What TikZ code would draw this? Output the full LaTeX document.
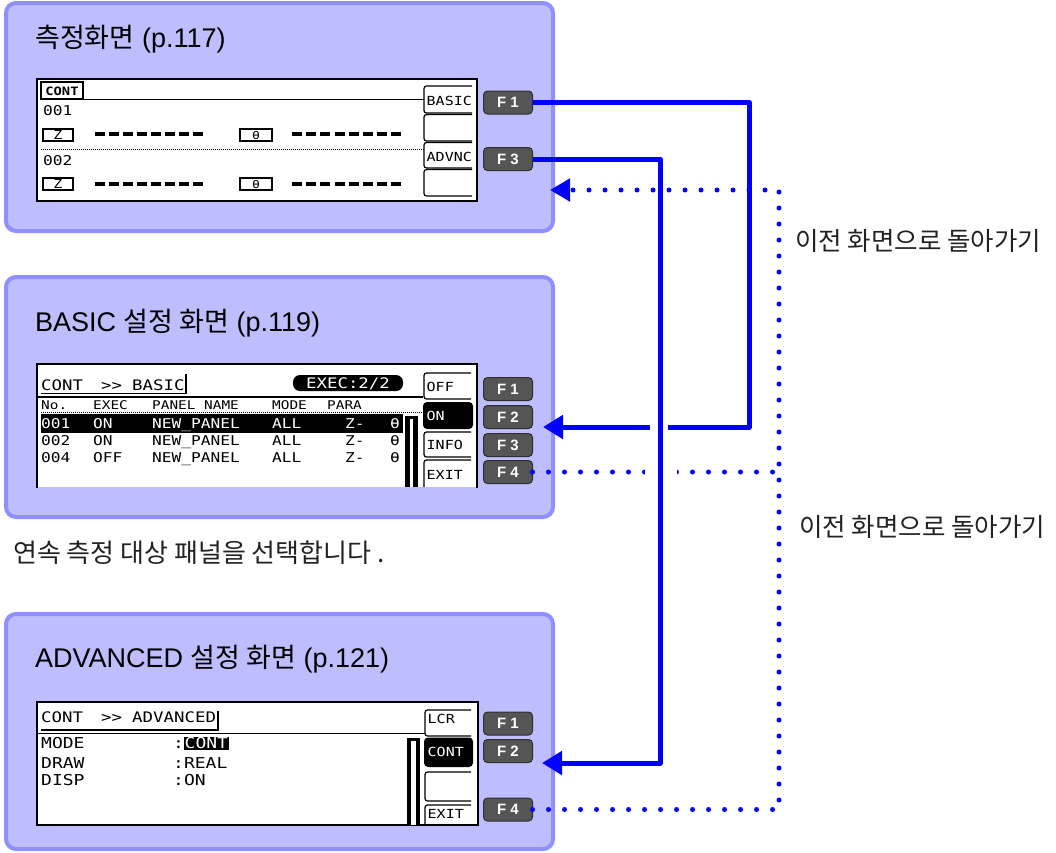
\documentclass[tikz,border=0pt]{standalone}
\usepackage{fontspec}
\setmainfont{Liberation Sans}
\newfontfamily\kr{Noto Sans CJK KR}
\newfontfamily\lcd[FakeStretch=1.2]{DejaVu Sans Mono}
\usetikzlibrary{arrows.meta}
\definecolor{panelfill}{HTML}{BEBEFF}
\definecolor{panelline}{HTML}{8F8FFF}
\definecolor{keygray}{HTML}{555555}
\definecolor{keyedge}{HTML}{2E2E2E}
\definecolor{bluearr}{HTML}{0000FF}
\definecolor{labeltext}{HTML}{222222}
\newcommand\lcdS{\lcd\fontsize{12.5}{14}\selectfont}
\newcommand\lcdH{\lcd\fontsize{12}{14}\selectfont}
\newcommand\lcdM{\lcd\fontsize{13.5}{15}\selectfont}
\newcommand\lcdL{\lcd\fontsize{14.5}{16}\selectfont}
\newcommand\lcdX{\lcd\fontsize{15}{17}\selectfont}
\newcommand\lcdkeyshape[4]{\draw[thin1, rounded corners=2.5pt] (#3,#2) -- (#1,#2) -- (#1,#4) -- (#3,#4);}
\tikzset{
  panel/.style={draw=panelline, fill=panelfill, line width=4pt, rounded corners=10pt, inner sep=0pt, outer sep=0pt, anchor=north west},
  ptitle/.style={anchor=base west, inner sep=0pt, font=\fontsize{27}{31}\selectfont},
  fkey/.style={draw=keyedge, fill=keygray, rounded corners=4pt, line width=1pt, minimum width=49pt, minimum height=23pt, inner sep=0pt, outer sep=0pt, text=white, font=\fontsize{15}{17}\selectfont\bfseries},
  solidarrow/.style={draw=bluearr, line width=5pt, line join=round, -{Triangle[length=20pt,width=23pt]}},
  dotline/.style={draw=bluearr, line width=5pt, line cap=round, dash pattern=on 0pt off 16pt},
  dotarrow/.style={dotline, -{Triangle[length=20pt,width=22pt]}},
  lab/.style={anchor=west, inner sep=0pt, text=labeltext, font=\kr\fontsize{25.5}{28}\selectfont},
  capt/.style={anchor=west, inner sep=0pt, text=labeltext, font=\kr\fontsize{26}{30}\selectfont},
  scrborder/.style={line width=2.5pt, line cap=rect},
  thin1/.style={line width=1.2pt},
  dotted1/.style={line width=1pt, dash pattern=on 1pt off 1pt},
  dashbar/.style={line width=4pt},
  lcds/.style={anchor=base west, inner sep=0pt, font=\lcdS},
  lcdh/.style={anchor=base west, inner sep=0pt, font=\lcdH},
  lcdm/.style={anchor=base west, inner sep=0pt, font=\lcdM},
  lcdl/.style={anchor=base west, inner sep=0pt, font=\lcdL},
  lcdx/.style={anchor=base west, inner sep=0pt, font=\lcdX},
}
\begin{document}
\begin{tikzpicture}[x=1pt,y=-1pt]
\useasboundingbox[fill=white] (0,0) rectangle (1056,852);

% ---------------- panels ----------------
\node[panel, minimum width=547pt, minimum height=228pt] (panel1) at (6,3) {};
\node[panel, minimum width=547pt, minimum height=240pt] (panel2) at (6,277) {};
\node[panel, minimum width=547pt, minimum height=235pt] (panel3) at (6,614) {};

\node[ptitle] (t1) at (35,47) {{\kr 측정화면} (p.117)};
\node[ptitle] (t2) at (35,331) {BASIC {\kr 설정 화면} (p.119)};
\node[ptitle] (t3) at (35,667) {ADVANCED {\kr 설정 화면} (p.121)};

% ---------------- screen 1 ----------------
\fill[white] (37,79) rectangle (477,201);
\draw[scrborder] (37,79) rectangle (477,201);
\draw[thin1] (41,82) rectangle (83,99);
\node[anchor=base, inner sep=0pt, font=\lcd\bfseries\fontsize{11.5}{12}\selectfont] (s1cont) at (62,95) {CONT};
\draw[thin1] (83,99.5) -- (424,99.5);
\node[lcdm] (s1r1) at (43,115) {001};
\draw[thin1] (43,129) rectangle (73,141);
\node[anchor=base, inner sep=0pt, font=\lcdS] (s1z1) at (58,139.5) {Z};
\foreach \i in {0,...,7} \draw[dashbar] (95+14*\i,134) -- +(10,0);
\draw[thin1] (240,129) rectangle (272,141);
\node[anchor=base, inner sep=0pt, font=\lcd\fontsize{11}{12}\selectfont] (s1t1) at (256,139.5) {θ};
\foreach \i in {0,...,7} \draw[dashbar] (292+14.2*\i,134) -- +(10,0);
\draw[dotted1] (41,149) -- (424,149);
\node[lcdm] (s1r2) at (43,165) {002};
\draw[thin1] (43,178) rectangle (73,190);
\node[anchor=base, inner sep=0pt, font=\lcdS] (s1z2) at (58,188.5) {Z};
\foreach \i in {0,...,7} \draw[dashbar] (95+14*\i,184) -- +(10,0);
\draw[thin1] (240,178) rectangle (272,190);
\node[anchor=base, inner sep=0pt, font=\lcd\fontsize{11}{12}\selectfont] (s1t2) at (256,188.5) {θ};
\foreach \i in {0,...,7} \draw[dashbar] (292+14.2*\i,184) -- +(10,0);
\lcdkeyshape{424}{86}{472}{113}
\lcdkeyshape{424}{114.5}{472}{141}
\lcdkeyshape{424}{142.5}{472}{168}
\lcdkeyshape{424}{169.5}{472}{196}
\node[lcds] (s1b1) at (426.5,105) {BASIC};
\node[lcds] (s1b3) at (426.5,161) {ADVNC};

% ---------------- screen 2 ----------------
\fill[white] (37,364) rectangle (477,487);
\draw[scrborder] (37,487) -- (37,364) -- (477,364) -- (477,487);
\node[lcdl] (s2h1) at (41,390.5) {CONT};
\node[lcdl] (s2h2) at (101,390.5) {>>};
\node[lcdl] (s2h3) at (132,390.5) {BASIC};
\draw[thin1] (41,393.5) -- (186,393.5) -- (186,374);
\draw[thin1] (37,397) -- (423,397);
\fill[rounded corners=7pt] (293,375) rectangle (403,391);
\node[anchor=base, inner sep=0pt, font=\lcdL, text=white] (s2exec) at (348,388.5) {EXEC:2/2};
\node[lcdh] (s2c1) at (41,409) {No.};
\node[lcdh] (s2c2) at (93,409) {EXEC};
\node[lcdh] (s2c3) at (152,409) {PANEL NAME};
\node[lcdh] (s2c4) at (272,409) {MODE};
\node[lcdh] (s2c5) at (327,409) {PARA};
\draw[dotted1] (41,412) -- (423,412);
\fill (41,414) rectangle (403,433);
\begin{scope}[every node/.append style={text=white}]
\node[lcdm] (r1a) at (41,428.5) {001};
\node[lcdm] (r1b) at (93,428.5) {ON};
\node[lcdm] (r1c) at (152,428.5) {NEW\_PANEL};
\node[lcdm] (r1d) at (272,428.5) {ALL};
\node[lcdm] (r1e) at (345,428.5) {Z-};
\node[lcdm] (r1f) at (390,428.5) {θ};
\end{scope}
\node[lcdm] (r2a) at (41,445.5) {002};
\node[lcdm] (r2b) at (93,445.5) {ON};
\node[lcdm] (r2c) at (152,445.5) {NEW\_PANEL};
\node[lcdm] (r2d) at (272,445.5) {ALL};
\node[lcdm] (r2e) at (345,445.5) {Z-};
\node[lcdm] (r2f) at (390,445.5) {θ};
\node[lcdm] (r3a) at (41,462.5) {004};
\node[lcdm] (r3b) at (93,462.5) {OFF};
\node[lcdm] (r3c) at (152,462.5) {NEW\_PANEL};
\node[lcdm] (r3d) at (272,462.5) {ALL};
\node[lcdm] (r3e) at (345,462.5) {Z-};
\node[lcdm] (r3f) at (390,462.5) {θ};
\fill (405,416) rectangle (418,487);
\fill[white] (410,419) rectangle (413,487);
\lcdkeyshape{424}{373}{471}{399}
\fill[rounded corners=4pt] (423,402) rectangle (473,429);
\lcdkeyshape{424}{432}{471}{457}
\draw[thin1, rounded corners=2.5pt] (471,460) -- (424,460) -- (424,487);
\node[lcds] (s2k1) at (426.5,391) {OFF};
\node[lcds, text=white] (s2k2) at (426.5,420) {ON};
\node[lcds] (s2k3) at (426.5,449) {INFO};
\node[lcds] (s2k4) at (426.5,479) {EXIT};

% ---------------- screen 3 ----------------
\fill[white] (37,702) rectangle (478,825);
\draw[scrborder] (37,702) rectangle (478,825);
\node[lcdl] (s3h1) at (41,722) {CONT};
\node[lcdl] (s3h2) at (101,722) {>>};
\node[lcdl] (s3h3) at (132,722) {ADVANCED};
\draw[thin1] (41,730) -- (218,730) -- (218,711);
\draw[thin1] (37,733.5) -- (425,733.5);
\node[lcdx] (s3a1) at (41,748.5) {MODE};
\node[lcdx] (s3a2) at (173,748.5) {:};
\fill (184,737) rectangle (229,750);
\node[lcdx, text=white] (s3a3) at (184.5,748.5) {CONT};
\node[lcdx] (s3b1) at (41,768.5) {DRAW};
\node[lcdx] (s3b2) at (173,768.5) {:REAL};
\node[lcdx] (s3c1) at (41,785.5) {DISP};
\node[lcdx] (s3c2) at (173,785.5) {:ON};
\fill (407,738) rectangle (420,825);
\fill[white] (411,741) rectangle (416,825);
\lcdkeyshape{425}{710}{471}{736}
\fill[rounded corners=4pt] (424,737.5) rectangle (473,767);
\lcdkeyshape{425}{772}{471}{801}
\draw[thin1, rounded corners=2.5pt] (471,805) -- (425,805) -- (425,825);
\node[lcds] (s3k1) at (427.5,723.5) {LCR};
\node[lcds, text=white] (s3k2) at (427.5,756.5) {CONT};
\node[lcds] (s3k4) at (427.5,818.5) {EXIT};

% ---------------- function keys ----------------
\node[fkey] (p1f1) at (508,102.5) {F 1};
\node[fkey] (p1f3) at (508,159) {F 3};
\node[fkey] (p2f1) at (508,389) {F 1};
\node[fkey] (p2f2) at (508,417) {F 2};
\node[fkey] (p2f3) at (508,445) {F 3};
\node[fkey] (p2f4) at (508,472) {F 4};
\node[fkey] (p3f1) at (508,723.5) {F 1};
\node[fkey] (p3f2) at (508,751) {F 2};
\node[fkey] (p3f4) at (508,809.5) {F 4};

% ---------------- connectors ----------------
\coordinate (k3) at (779,472);
\coordinate (k5) at (779,190);
\coordinate (a3tip) at (550,190);
\draw[dotline] (p2f4.east) -- (k3);
\draw[dotarrow] (p3f4.east) -| (k5) -- (a3tip);

\coordinate (k1) at (749,427);
\coordinate (a1tip) at (543,427);
\draw[solidarrow] (p1f1.east) -| (k1) -- (a1tip);

\fill[white] (650,419) rectangle (668,435);
\fill[white] (645,463) rectangle (677,481);

\coordinate (k2) at (660,763);
\coordinate (a2tip) at (542,763);
\draw[solidarrow] (p1f3.east) -| (k2) -- (a2tip);

% ---------------- texts ----------------
\node[lab] (r1) at (795,241) {이전 화면으로 돌아가기};
\node[lab] (r2) at (799,527) {이전 화면으로 돌아가기};
\node[capt] (c1) at (13,553) {연속 측정 대상 패널을 선택합니다 .};
\end{tikzpicture}
\end{document}
